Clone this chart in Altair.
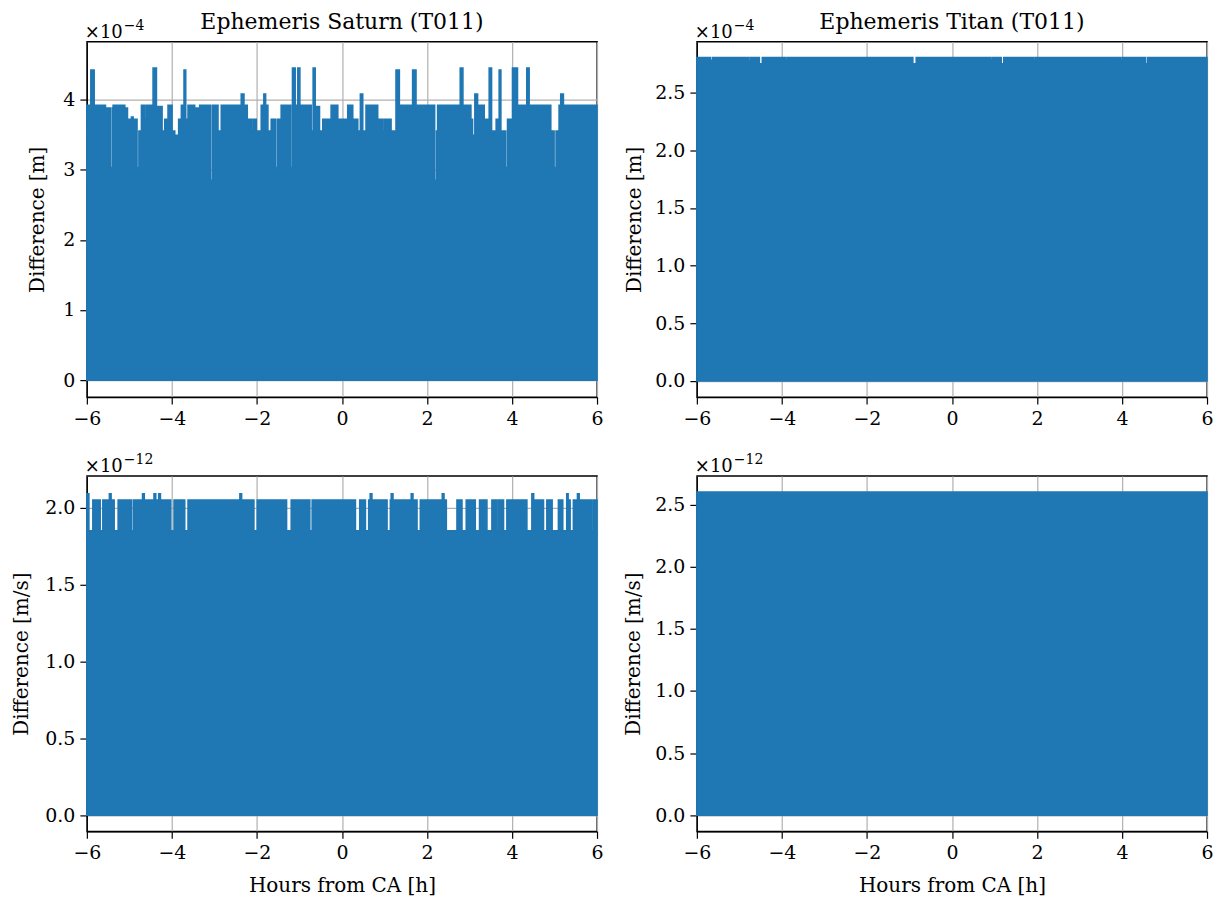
import altair as alt
import pandas as pd

BLUE = "#1f77b4"
FONT = "DejaVu Serif"

# ---- data (step envelopes of the dense difference signal) ----
# Saturn position difference (x1e-4 m)
sat_pos_hours = [-6.000, -5.906, -5.828, -5.671, -5.640, -5.562, -5.445, -5.400, -5.382, -5.108,
                 -5.045, -4.951, -4.912, -4.820, -4.775, -4.716, -4.638, -4.599, -4.442, -4.364,
                 -4.231, -4.168, -4.090, -3.996, -3.933, -3.840, -3.777, -3.714, -3.675, -3.620,
                 -3.464, -3.346, -3.095, -3.050, -2.916, -2.838, -2.368, -2.305, -2.227, -2.133,
                 -2.094, -2.016, -1.898, -1.836, -1.796, -1.742, -1.663, -1.560, -1.515, -1.429,
                 -1.205, -1.163, -1.100, -1.037, -0.990, -0.724, -0.677, -0.630, -0.528, -0.450,
                 -0.254, -0.098, 0.137, 0.254, 0.372, 0.434, 0.489, 0.567, 0.841, 0.959,
                 0.998, 1.155, 1.272, 1.350, 1.663, 1.742, 2.180, 2.225, 2.251, 2.783,
                 2.845, 3.033, 3.072, 3.127, 3.190, 3.346, 3.464, 3.519, 3.590, 3.628,
                 3.699, 3.738, 3.850, 3.895, 4.012, 4.129, 4.348, 4.403, 4.912, 4.990,
                 5.037, 5.108, 5.147, 5.209, 6.000]
sat_pos_vals = [3.92, 4.42, 3.92, 3.72, 3.92, 3.88, 3.03, 3.88, 3.92, 3.88,
                3.72, 3.75, 3.72, 3.03, 3.55, 3.92, 3.72, 3.92, 4.45, 3.90,
                3.55, 3.72, 3.92, 3.55, 3.49, 3.72, 3.92, 4.42, 3.72, 3.92,
                3.88, 3.92, 2.85, 3.92, 3.55, 3.92, 4.08, 3.92, 3.72, 3.55,
                3.72, 3.55, 3.92, 4.08, 3.92, 3.55, 3.72, 3.03, 3.72, 3.92,
                3.03, 4.45, 3.92, 4.45, 3.92, 3.55, 4.45, 3.90, 3.55, 3.72,
                3.92, 3.72, 3.92, 3.72, 3.55, 4.08, 3.55, 3.92, 3.72, 3.55,
                3.72, 3.55, 4.42, 3.92, 4.42, 3.92, 2.85, 3.55, 3.92, 4.45,
                3.92, 3.72, 3.49, 4.08, 3.92, 3.72, 4.45, 3.55, 2.85, 3.72,
                4.42, 3.55, 3.03, 3.72, 4.45, 3.92, 4.45, 3.92, 3.55, 3.03,
                3.55, 3.92, 4.08, 3.92, 3.92]

# Titan position difference (x1e-4 m)
tit_pos_hours = [-6.00, -5.68, -5.63, -4.78, -4.74, -4.53, -4.46, -3.91, -3.87, -0.92,
                 -0.84, 0.91, 0.95, 1.16, 1.22, 1.92, 1.96, 3.96, 4.00, 4.55, 4.60, 6.00]
tit_pos_vals = [2.805, 2.78, 2.805, 2.77, 2.805, 2.75, 2.805, 2.78, 2.805, 2.75,
                2.805, 2.78, 2.805, 2.75, 2.805, 2.78, 2.805, 2.78, 2.805, 2.75, 2.805, 2.805]

# Saturn velocity difference (x1e-12 m/s)
sat_vel_hours = [-6.000, -5.953, -5.859, -5.687, -5.624, -5.470, -5.430, -5.358, -5.264, -4.951,
                 -4.904, -4.690, -4.650, -4.420, -4.380, -4.310, -4.270, -4.027, -3.949, -3.698,
                 -3.620, -2.400, -2.360, -2.071, -1.993, -1.303, -1.193, -0.756, -0.700, 0.317,
                 0.419, 0.552, 0.630, 0.665, 0.705, 1.061, 1.139, 1.160, 1.200, 1.630,
                 1.670, 1.766, 1.844, 2.360, 2.400, 2.455, 2.706, 2.823, 2.924, 3.136,
                 3.237, 3.410, 3.528, 3.645, 3.684, 3.801, 3.880, 4.350, 4.468, 4.510,
                 4.741, 4.820, 4.944, 5.092, 5.194, 5.288, 5.320, 5.367, 5.444, 5.540,
                 5.580, 5.876, 5.915, 6.000]
sat_vel_vals = [2.09, 1.85, 2.05, 1.85, 2.05, 2.09, 2.05, 1.85, 2.05, 1.85,
                2.05, 2.09, 2.05, 2.09, 2.05, 2.09, 2.05, 1.85, 2.05, 1.85,
                2.05, 2.09, 2.05, 1.85, 2.05, 1.85, 2.05, 1.85, 2.05, 1.85,
                2.05, 1.85, 2.05, 2.09, 2.05, 1.85, 2.05, 2.09, 2.05, 2.09,
                2.05, 1.85, 2.05, 2.09, 2.05, 1.85, 2.05, 1.85, 2.05, 1.85,
                2.05, 1.85, 2.05, 1.85, 2.05, 1.85, 2.05, 1.85, 2.09, 2.05,
                1.85, 2.05, 1.85, 2.05, 1.85, 2.09, 2.05, 1.85, 2.05, 2.09,
                2.05, 1.85, 2.05, 2.05]

# Titan velocity difference (x1e-12 m/s)
tit_vel_hours = [-6.0, 6.0]
tit_vel_vals = [2.60, 2.60]

x_ticks = [-6, -4, -2, 0, 2, 4, 6]
W, H = 511, 356


def panel(hours, vals, ydomain, yticks, yfmt, ylabel, title_x, exp_power,
          title=None, xlabel=None):
    df = pd.DataFrame({"h": hours, "v": vals, "base": [0.0] * len(hours)})
    xax = dict(values=x_ticks, format="d", grid=True, labelFlush=False)
    if xlabel:
        xax.update(title=xlabel, titleY=60, titleBaseline="alphabetic")
    else:
        xax.update(title="")
    area = alt.Chart(df).mark_area(
        interpolate="step-after", color=BLUE, stroke=BLUE, strokeWidth=1.6, opacity=1
    ).encode(
        x=alt.X("h:Q", scale=alt.Scale(domain=[-6, 6], nice=False, zero=False),
                axis=alt.Axis(**xax)),
        y=alt.Y("v:Q", scale=alt.Scale(domain=ydomain, nice=False, zero=False),
                axis=alt.Axis(values=yticks, format=yfmt, title=ylabel, grid=True,
                              labelFlush=False, titleX=title_x, titleBaseline="middle")),
        y2="base:Q",
    )
    base_txt = alt.Chart(pd.DataFrame({"t": ["×10"]})).mark_text(
        align="left", baseline="alphabetic", font=FONT, fontSize=18, color="black"
    ).encode(x=alt.value(-2), y=alt.value(-4), text="t:N")
    pow_txt = alt.Chart(pd.DataFrame({"t": [exp_power]})).mark_text(
        align="left", baseline="alphabetic", font=FONT, fontSize=14, color="black"
    ).encode(x=alt.value(37), y=alt.value(-12), text="t:N")
    layers = [area, base_txt, pow_txt]
    if title:
        tt = alt.Chart(pd.DataFrame({"t": [title]})).mark_text(
            align="center", baseline="alphabetic", font=FONT, fontSize=22, color="black"
        ).encode(x=alt.value(W / 2), y=alt.value(-13), text="t:N")
        layers.append(tt)
    return alt.layer(*layers).properties(width=W, height=H)


tl = panel(sat_pos_hours, sat_pos_vals, [-0.242, 4.826], [0, 1, 2, 3, 4], "d",
           "Difference [m]", -49, "−4", title="Ephemeris Saturn (T011)")
tr = panel(tit_pos_hours, tit_pos_vals, [-0.140, 2.942], [0, 0.5, 1, 1.5, 2, 2.5], ".1f",
           "Difference [m]", -62, "−4", title="Ephemeris Titan (T011)")
bl = panel(sat_vel_hours, sat_vel_vals, [-0.105, 2.206], [0, 0.5, 1, 1.5, 2], ".1f",
           "Difference [m/s]", -65, "−12", xlabel="Hours from CA [h]")
br = panel(tit_vel_hours, tit_vel_vals, [-0.130, 2.730], [0, 0.5, 1, 1.5, 2, 2.5], ".1f",
           "Difference [m/s]", -63, "−12", xlabel="Hours from CA [h]")

chart = alt.concat(tl, tr, bl, br, columns=2, spacing={"row": 79, "column": 100},
                   bounds="flush").properties(
    padding={"left": 11, "top": 9, "right": 5, "bottom": 5},
    background="white",
).configure_axis(
    labelFont=FONT, titleFont=FONT, labelFontSize=19, titleFontSize=20,
    labelColor="black", titleColor="black", titleFontWeight="normal",
    tickColor="black", tickSize=7, tickWidth=1.2, labelPadding=5,
    domainColor="black", domainWidth=1.2,
    gridColor="#b0b0b0", gridWidth=1.2,
).configure_view(stroke="black", strokeWidth=1.4)

chart.save("out.html", embed_options={"renderer": "svg", "actions": False})
